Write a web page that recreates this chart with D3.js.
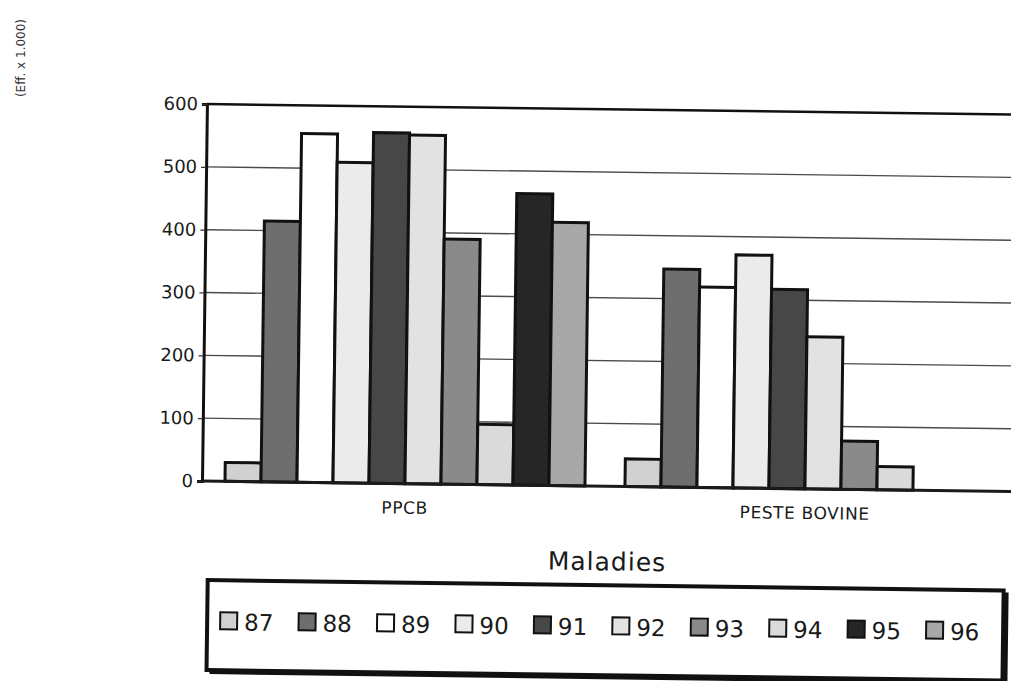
<!DOCTYPE html>
<html>
<head>
<meta charset="utf-8">
<script src="https://cdn.jsdelivr.net/npm/d3@7"></script>
<style>
  html, body { margin: 0; padding: 0; background: #ffffff; }
  svg { display: block; font-family: "DejaVu Sans", "Noto Sans", sans-serif; }
</style>
</head>
<body>
<svg id="chart" width="1011" height="681"></svg>
<script>
const categories = ["PPCB", "PESTE BOVINE"];
const years = ["87", "88", "89", "90", "91", "92", "93", "94", "95", "96"];
const ppcbValues = [30, 415, 555, 510, 558, 555, 390, 96, 464, 419];
const pesteValues = [44, 347, 319, 371, 317, 242, 77, 37, 0, 0];
const yTicks = [0, 100, 200, 300, 400, 500, 600];
const yearFills = ["#d0d0d0", "#6e6e6e", "#ffffff", "#ebebeb", "#474747", "#e2e2e2", "#8a8a8a", "#dadada", "#262626", "#a8a8a8"];

const seriesByCat = { "PPCB": ppcbValues, "PESTE BOVINE": pesteValues };
const FONT = "'DejaVu Sans', 'Noto Sans', sans-serif";

const svg = d3.select("#chart");
const plotLeft = 202, plotRight = 1030, plotTop = 104, plotBottom = 481;

const x0 = d3.scaleBand().domain(categories).range([205, 1005]).paddingInner(0.1).paddingOuter(0.05);
const x1 = d3.scaleBand().domain(years).range([0, x0.bandwidth()]).padding(0);
const y = d3.scaleLinear().domain([0, 600]).range([plotBottom, plotTop]);
const color = d3.scaleOrdinal().domain(years).range(yearFills);

// the scanned page is slightly tilted
const root = svg.append("g").attr("transform", `rotate(0.75, ${plotLeft}, ${plotBottom})`);

// gridlines
root.append("g")
  .selectAll("line")
  .data(yTicks.filter(t => t > 0 && t < 600))
  .join("line")
  .attr("x1", plotLeft).attr("x2", plotRight)
  .attr("y1", d => y(d)).attr("y2", d => y(d))
  .attr("stroke", "#4a4a4a").attr("stroke-width", 1.4);

// top border
root.append("line").attr("x1", plotLeft).attr("x2", plotRight).attr("y1", y(600)).attr("y2", y(600))
  .attr("stroke", "#111").attr("stroke-width", 2.5);

// y axis
const yAxis = d3.axisLeft(y).tickValues(yTicks).tickSize(5).tickPadding(4);
const gy = root.append("g").attr("transform", `translate(${plotLeft},0)`).call(yAxis);
gy.select(".domain").attr("stroke", "#111").attr("stroke-width", 3);
gy.selectAll(".tick line").attr("stroke", "#333").attr("stroke-width", 1.2);
gy.selectAll(".tick text").attr("font-size", 18).attr("fill", "#1a1a1a")
  .attr("font-family", FONT);

// bars
const groups = root.append("g").selectAll("g")
  .data(categories).join("g")
  .attr("transform", d => `translate(${x0(d)},0)`);

groups.selectAll("rect")
  .data(cat => years.map((yr, i) => ({ yr, v: seriesByCat[cat][i] })).filter(d => d.v > 0))
  .join("rect")
  .attr("x", d => x1(d.yr))
  .attr("y", d => y(d.v))
  .attr("width", x1.bandwidth())
  .attr("height", d => y(0) - y(d.v))
  .attr("fill", d => color(d.yr))
  .attr("stroke", "#111")
  .attr("stroke-width", 3);

// baseline
root.append("line").attr("x1", plotLeft).attr("x2", plotRight).attr("y1", y(0)).attr("y2", y(0))
  .attr("stroke", "#1a1a1a").attr("stroke-width", 3);

// x axis labels
const xAxis = d3.axisBottom(x0).tickSize(0).tickPadding(18);
const gx = root.append("g").attr("transform", `translate(0,${y(0)})`).call(xAxis);
gx.select(".domain").remove();
gx.selectAll(".tick text").attr("font-size", 17).attr("fill", "#1a1a1a")
  .attr("font-family", FONT).attr("letter-spacing", 0.6);

// x axis title
root.append("text")
  .attr("x", 608).attr("y", 565)
  .attr("text-anchor", "middle")
  .attr("font-size", 25).attr("fill", "#1a1a1a")
  .attr("letter-spacing", 1)
  .text("Maladies");

// legend box (with drop shadow)
root.append("rect").attr("x", 212).attr("y", 582).attr("width", 798).attr("height", 92)
  .attr("fill", "#111");
root.append("rect").attr("x", 209).attr("y", 580).attr("width", 796).attr("height", 90)
  .attr("fill", "#fff").attr("stroke", "#111").attr("stroke-width", 4);

const legX = d3.scalePoint().domain(years).range([222, 928]);
const leg = root.append("g").selectAll("g").data(years).join("g")
  .attr("transform", d => `translate(${legX(d)},612)`);
leg.append("rect").attr("width", 17).attr("height", 17)
  .attr("fill", d => color(d)).attr("stroke", "#111").attr("stroke-width", 2);
leg.append("text").attr("x", 24).attr("y", 18)
  .attr("font-size", 23).attr("fill", "#1a1a1a")
  .text(d => d);

// y unit label
svg.append("text")
  .attr("transform", "translate(25,58) rotate(-90)")
  .attr("text-anchor", "middle")
  .attr("font-size", 12).attr("fill", "#333")
  .text("(Eff. x 1.000)");
</script>
</body>
</html>
